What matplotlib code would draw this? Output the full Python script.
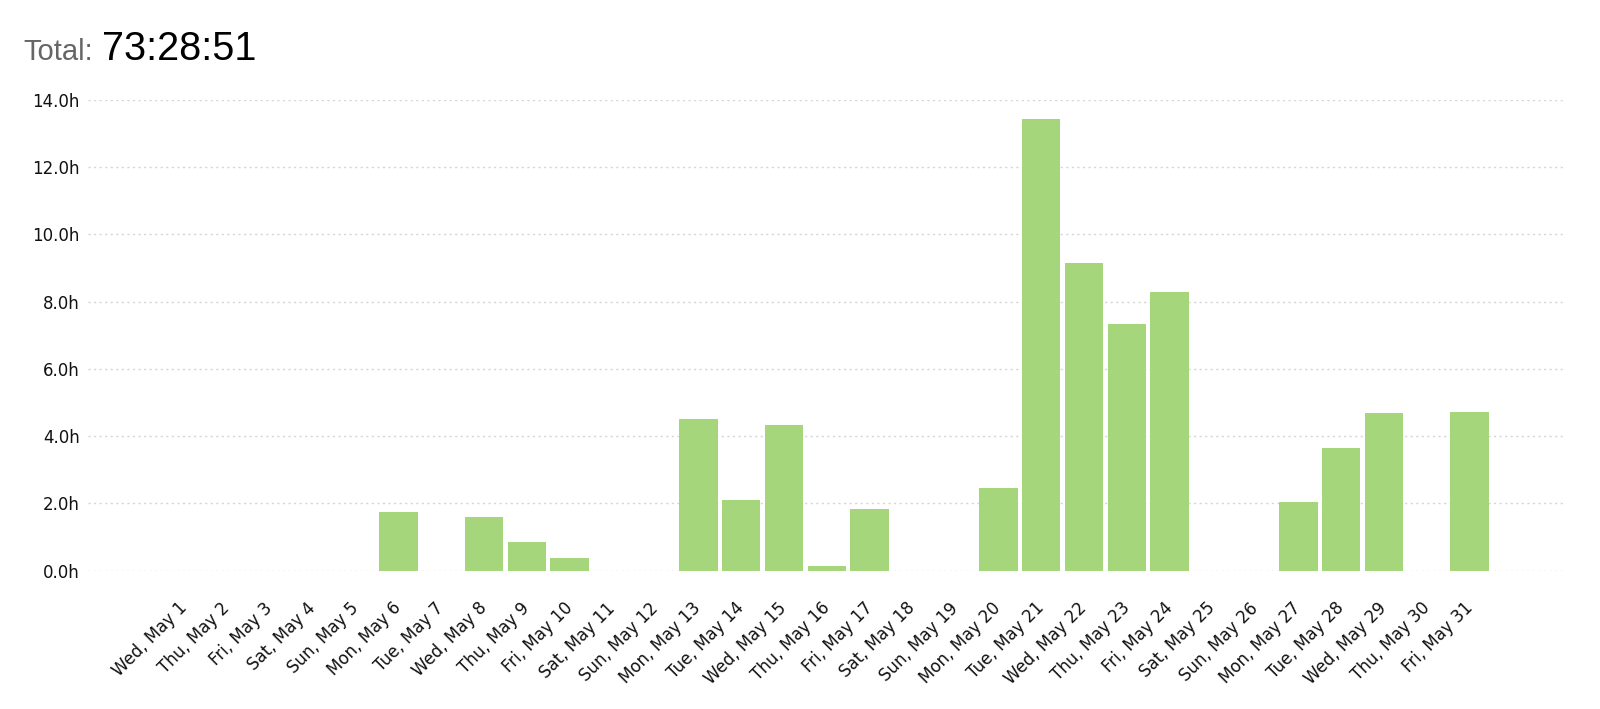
import matplotlib
matplotlib.use("Agg")
import matplotlib.pyplot as plt

plt.rcParams["font.family"] = ["DejaVu Sans"]

days = ["Wed, May 1", "Thu, May 2", "Fri, May 3", "Sat, May 4", "Sun, May 5",
        "Mon, May 6", "Tue, May 7", "Wed, May 8", "Thu, May 9", "Fri, May 10",
        "Sat, May 11", "Sun, May 12", "Mon, May 13", "Tue, May 14", "Wed, May 15",
        "Thu, May 16", "Fri, May 17", "Sat, May 18", "Sun, May 19", "Mon, May 20",
        "Tue, May 21", "Wed, May 22", "Thu, May 23", "Fri, May 24", "Sat, May 25",
        "Sun, May 26", "Mon, May 27", "Tue, May 28", "Wed, May 29", "Thu, May 30",
        "Fri, May 31"]
hours = [0, 0, 0, 0, 0,
         1.74, 0, 1.61, 0.85, 0.39,
         0, 0, 4.50, 2.10, 4.32,
         0.13, 1.83, 0, 0, 2.45,
         13.44, 9.15, 7.35, 8.29, 0,
         0, 2.04, 3.66, 4.69, 0,
         4.73]
yticks = [0, 2, 4, 6, 8, 10, 12, 14]
total_label = "Total:"
total_value = "73:28:51"

W, H = 1600, 709
fig = plt.figure(figsize=(W / 100, H / 100), dpi=100)
ax = fig.add_axes([88 / W, 138.3 / H, (1564 - 88) / W, (609 - 138.3) / H])

x = list(range(len(days)))
ax.bar(x, hours, width=0.9, color="#a5d67b", zorder=2)

ax.set_xlim(-2.24, 32.2)
ax.set_ylim(0, 14)
ax.set_yticks(yticks)
ax.set_yticklabels([f"{v:.1f}h" for v in yticks])
ax.set_xticks(x)
ax.set_xticklabels(days, rotation=45, ha="right", va="center", rotation_mode="anchor")
ax.tick_params(axis="x", length=0, pad=25, labelsize=12, labelcolor="#111111")
ax.tick_params(axis="y", length=0, pad=6, labelsize=12, labelcolor="#111111")
for s in ax.spines.values():
    s.set_visible(False)
ax.grid(axis="y", color="#d4d4d4", linestyle=(0, (1.5, 2.5)), linewidth=1, zorder=0)
ax.set_axisbelow(True)

fig.text(23 / W, 1 - 60 / H, total_label, fontsize=21, color="#666666",
         family="Liberation Sans", va="baseline", ha="left")
fig.text(102 / W, 1 - 60 / H, total_value, fontsize=28.5, color="#000000",
         family="Liberation Sans", va="baseline", ha="left")

fig.savefig("out.png", dpi=100)
